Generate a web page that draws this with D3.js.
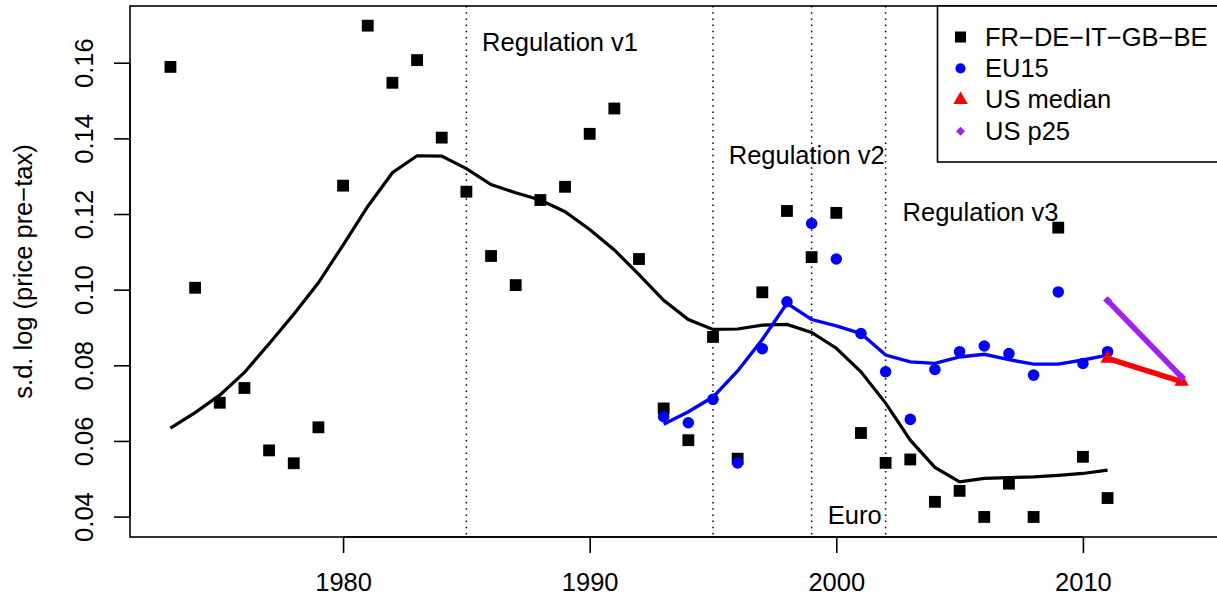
<!DOCTYPE html>
<html>
<head>
<meta charset="utf-8">
<script src="https://cdn.jsdelivr.net/npm/d3@7"></script>
<style>
  body { margin: 0; background: #fff; }
  svg text { font-family: "Liberation Sans", Arial, Helvetica, sans-serif; font-size: 25.5px; fill: #000; }
</style>
</head>
<body>
<div id="chart"></div>
<script>
// ---- data ----
var years = d3.range(1973, 2012);   // 1973 .. 2011
var eu5Points = [0.1589, 0.1005, 0.0701, 0.0740, 0.0575, 0.0541, 0.0636, 0.1275, 0.1698, 0.1547,
                 0.1607, 0.1402, 0.1259, 0.1089, 0.1012, 0.1237, 0.1272, 0.1412, 0.1479, 0.1081,
                 0.0686, 0.0602, 0.0875, 0.0553, 0.0993, 0.1208, 0.1086, 0.1203, 0.0621, 0.0542,
                 0.0551, 0.0439, 0.0468, 0.0399, 0.0487, 0.0399, 0.1164, 0.0558, 0.0449];
var eu5Smooth = [0.0634, 0.0675, 0.0721, 0.0781, 0.0857, 0.0935, 0.1018, 0.1118, 0.1220, 0.1309,
                 0.1354, 0.1353, 0.1320, 0.1278, 0.1256, 0.1237, 0.1206, 0.1159, 0.1105, 0.1040,
                 0.0972, 0.0921, 0.0895, 0.0896, 0.0906, 0.0908, 0.0887, 0.0845, 0.0783, 0.0700,
                 0.0602, 0.0530, 0.0492, 0.0501, 0.0503, 0.0505, 0.0509, 0.0514, 0.0523];

var euYears = d3.range(1993, 2012); // 1993 .. 2011
var eu15Points = [0.0664, 0.0648, 0.0710, 0.0542, 0.0844, 0.0968, 0.1175, 0.1081, 0.0884, 0.0783,
                  0.0657, 0.0789, 0.0836, 0.0851, 0.0831, 0.0774, 0.0994, 0.0805, 0.0836];
var eu15Smooth = [0.0644, 0.0677, 0.0716, 0.0785, 0.0868, 0.0964, 0.0921, 0.0904, 0.0884, 0.0827,
                  0.0809, 0.0805, 0.0822, 0.0829, 0.0815, 0.0803, 0.0803, 0.0814, 0.0827];

var usYears = [2011, 2014];
var usMedian = [0.0818, 0.0757];
var usP25 = [0.0971, 0.0769];

var eventYears = [1985, 1995, 1999, 2002];
var noteText = ["Regulation v1", "Regulation v2", "Regulation v3", "Euro"];
var noteX = [1988.8, 1998.8, 2005.85, 2000.75];
var noteY = [0.165, 0.135, 0.12, 0.04];

var xTicks = [1980, 1990, 2000, 2010];
var yTicks = [0.04, 0.06, 0.08, 0.10, 0.12, 0.14, 0.16];

var legendNames = ["FR\u2212DE\u2212IT\u2212GB\u2212BE", "EU15", "US median", "US p25"];
var legendColors = ["#000000", "#0000FF", "#FF0000", "#A020F0"];

// ---- dimensions ----
var margin = {top: 6, right: 0, bottom: 61, left: 130},
    width = 1092,
    height = 531;

var svg = d3.select("#chart")
  .append("svg")
    .attr("width", 1217)
    .attr("height", 598)
  .append("g")
    .attr("transform", "translate(" + margin.left + "," + margin.top + ")");

// scales (R style 4% padding around data range)
var x = d3.scaleLinear().domain([1971.36, 2015.64]).range([0, width]);
var y = d3.scaleLinear().domain([0.0346, 0.175]).range([height, 0]);

// dotted event lines
svg.selectAll(".event")
  .data(eventYears)
  .enter().append("line")
    .attr("x1", function(d) { return x(d); })
    .attr("x2", function(d) { return x(d); })
    .attr("y1", 0)
    .attr("y2", height)
    .attr("stroke", "#000")
    .attr("stroke-width", 1.5)
    .attr("stroke-dasharray", "1.5,4.7");

// notes
svg.selectAll(".note")
  .data(noteText)
  .enter().append("text")
    .attr("x", function(d, i) { return x(noteX[i]); })
    .attr("y", function(d, i) { return y(noteY[i]); })
    .attr("dy", "7")
    .style("text-anchor", "middle")
    .text(function(d) { return d; });

// lines
var lineGen = function(xs, ys) {
  return d3.line()
    .x(function(d, i) { return x(xs[i]); })
    .y(function(d) { return y(d); })(ys);
};

svg.append("path")
    .attr("d", lineGen(years, eu5Smooth))
    .attr("fill", "none").attr("stroke", "#000").attr("stroke-width", 3.2);

svg.append("path")
    .attr("d", lineGen(euYears, eu15Smooth))
    .attr("fill", "none").attr("stroke", "#0000FF").attr("stroke-width", 3.4);

svg.append("path")
    .attr("d", lineGen(usYears, usMedian))
    .attr("fill", "none").attr("stroke", "#FF0000").attr("stroke-width", 5.5);

svg.append("path")
    .attr("d", lineGen(usYears, usP25))
    .attr("fill", "none").attr("stroke", "#A020F0").attr("stroke-width", 5.5);

// point symbols
var symSquare = d3.symbol().type(d3.symbolSquare).size(140);
var symCircle = d3.symbol().type(d3.symbolCircle).size(104);
var symTri = d3.symbol().type(d3.symbolTriangle).size(90);
var symDiamond = d3.symbol().type(d3.symbolSquare).size(40);

svg.selectAll(".eu5")
  .data(eu5Points)
  .enter().append("path")
    .attr("d", symSquare)
    .attr("transform", function(d, i) { return "translate(" + x(years[i]) + "," + y(d) + ")"; })
    .attr("fill", "#000");

svg.selectAll(".eu15")
  .data(eu15Points)
  .enter().append("path")
    .attr("d", symCircle)
    .attr("transform", function(d, i) { return "translate(" + x(euYears[i]) + "," + y(d) + ")"; })
    .attr("fill", "#0000FF");

svg.selectAll(".usmed")
  .data(usMedian)
  .enter().append("path")
    .attr("d", symTri)
    .attr("transform", function(d, i) { return "translate(" + x(usYears[i]) + "," + y(d) + ")"; })
    .attr("fill", "#FF0000");

svg.selectAll(".usp25")
  .data(usP25)
  .enter().append("path")
    .attr("d", symDiamond)
    .attr("transform", function(d, i) { return "translate(" + x(usYears[i]) + "," + y(d) + ") rotate(45)"; })
    .attr("fill", "#A020F0");

// box around plot
svg.append("rect")
    .attr("x", 0).attr("y", 0)
    .attr("width", width).attr("height", height)
    .attr("fill", "none").attr("stroke", "#000").attr("stroke-width", 1.6);

// x axis
var xAxis = svg.append("g")
    .attr("transform", "translate(0," + height + ")")
    .call(d3.axisBottom(x).tickValues(xTicks).tickSize(16).tickSizeOuter(0).tickFormat(d3.format("d")));
xAxis.select(".domain").remove();
xAxis.selectAll("line").attr("stroke-width", 1.6);
xAxis.selectAll("text")
    .attr("y", 54).attr("dy", null)
    .style("font-size", "25.5px").style("font-family", null);
svg.append("line")
    .attr("x1", x(xTicks[0])).attr("x2", x(xTicks[xTicks.length - 1]))
    .attr("y1", height).attr("y2", height)
    .attr("stroke", "#000").attr("stroke-width", 1.6);

// y axis, labels turned like R
var yAxis = svg.append("g")
    .call(d3.axisLeft(y).tickValues(yTicks).tickSize(16).tickSizeOuter(0).tickFormat(d3.format(".2f")));
yAxis.select(".domain").remove();
yAxis.selectAll("line").attr("stroke-width", 1.6);
yAxis.selectAll("text")
    .attr("x", 0).attr("y", 0).attr("dy", null)
    .attr("transform", "translate(-37,0) rotate(-90)")
    .style("text-anchor", "middle")
    .style("font-size", "25.5px").style("font-family", null);
svg.append("line")
    .attr("x1", 0).attr("x2", 0)
    .attr("y1", y(yTicks[0])).attr("y2", y(yTicks[yTicks.length - 1]))
    .attr("stroke", "#000").attr("stroke-width", 1.6);

// y axis title
svg.append("text")
    .attr("transform", "translate(" + (32 - margin.left) + "," + (height / 2) + ") rotate(-90)")
    .style("text-anchor", "middle")
    .text("s.d. log (price pre\u2212tax)");

// legend, top right
var legend = d3.select("#chart svg").append("g");
legend.append("rect")
    .attr("x", 937.5).attr("y", 6)
    .attr("width", 300).attr("height", 156)
    .attr("fill", "#fff").attr("stroke", "#000").attr("stroke-width", 1.6);

var legendSyms = [symSquare.size(121)(), d3.symbol().type(d3.symbolCircle).size(80)(),
                  d3.symbol().type(d3.symbolTriangle).size(90)(), symDiamond()];

legendNames.forEach(function(name, i) {
  var by = 45.5 + i * 31.4;
  legend.append("path")
      .attr("d", legendSyms[i])
      .attr("transform", "translate(960.5," + (by - 8.5) + ")" + (i == 3 ? " rotate(45)" : ""))
      .attr("fill", legendColors[i]);
  legend.append("text")
      .attr("x", 985)
      .attr("y", by)
      .text(name);
});
</script>
</body>
</html>
